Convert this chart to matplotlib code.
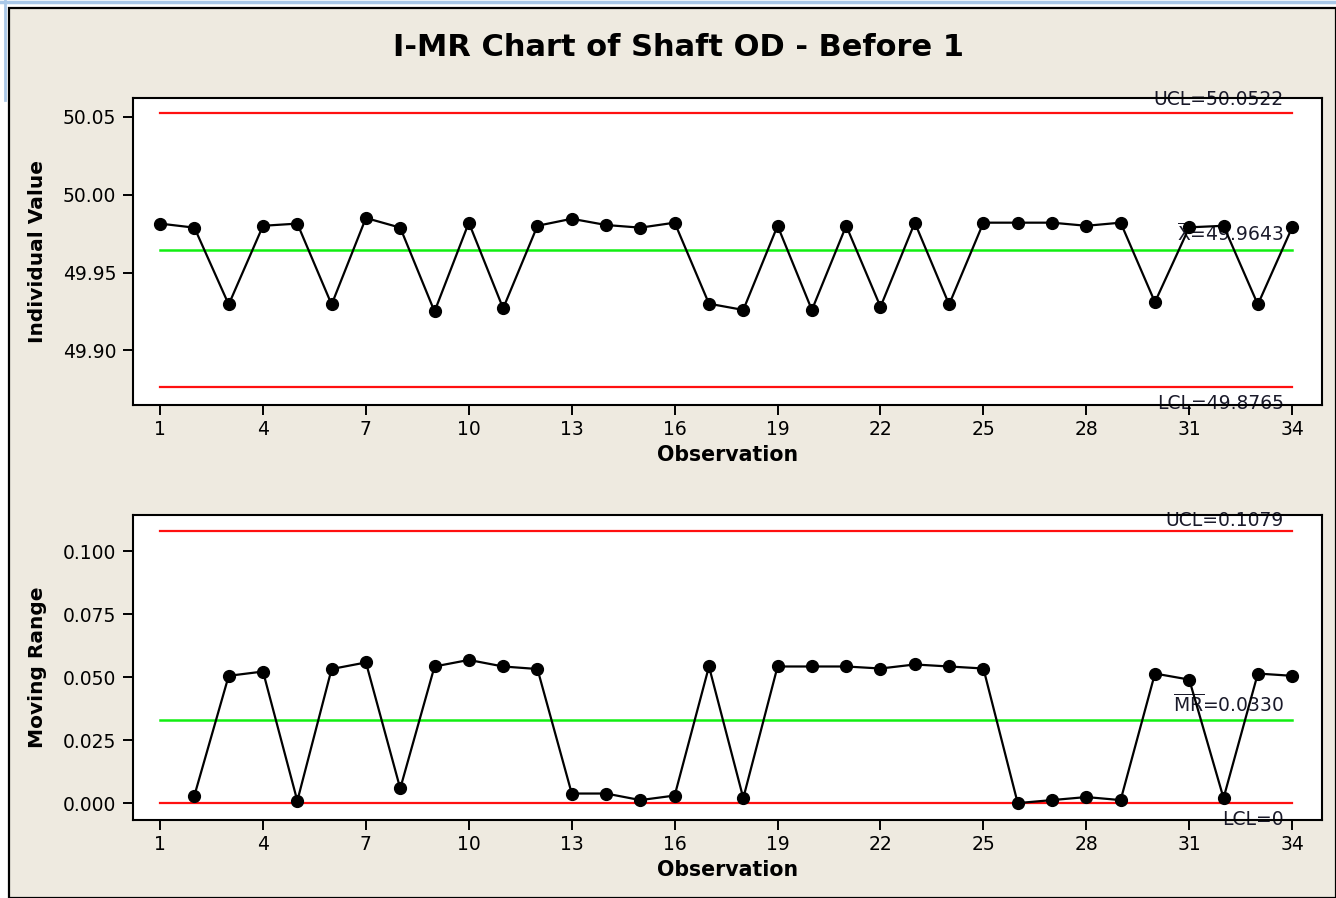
import numpy as np
import matplotlib
matplotlib.use("Agg")
import matplotlib.pyplot as plt
from matplotlib.patches import Rectangle
from matplotlib.lines import Line2D

# data
obs = list(range(1, 35))
ind_values = [49.9814, 49.9788, 49.9295, 49.9800, 49.9814, 49.9295, 49.9850, 49.9788,
              49.9250, 49.9820, 49.9270, 49.9800, 49.9845, 49.9805, 49.9788, 49.9820,
              49.9300, 49.9260, 49.9800, 49.9260, 49.9800, 49.9280, 49.9820, 49.9295,
              49.9820, 49.9820, 49.9820, 49.9800, 49.9820, 49.9310, 49.9790, 49.9800,
              49.9295, 49.9790]
mr_obs = list(range(2, 35))
mr_values = [0.0030, 0.0505, 0.0522, 0.0009, 0.0532, 0.0558, 0.0058, 0.0542, 0.0568,
             0.0542, 0.0532, 0.0038, 0.0038, 0.0012, 0.0030, 0.0542, 0.0020, 0.0542,
             0.0542, 0.0542, 0.0534, 0.0550, 0.0542, 0.0534, 0.0000, 0.0012, 0.0024,
             0.0012, 0.0514, 0.0490, 0.0020, 0.0514, 0.0505]
i_limits = {"UCL": 50.0522, "CL": 49.9643, "LCL": 49.8765}
mr_limits = {"UCL": 0.1079, "CL": 0.0330, "LCL": 0.0}
xticks = list(range(1, 35, 3))
i_yticks = [49.90, 49.95, 50.00, 50.05]
mr_yticks = [0.0, 0.025, 0.05, 0.075, 0.1]

W, H = 1336, 898
bg = "#EEEAE0"
plt.rcParams["mathtext.fontset"] = "dejavusans"
fig = plt.figure(figsize=(W / 100, H / 100), dpi=100, facecolor="white")

# window-like frame
fig.patches.append(Rectangle((9 / W, 0), 1 - 9 / W, 1 - 8 / H, transform=fig.transFigure,
                             facecolor=bg, edgecolor="black", linewidth=1.6, zorder=-10))
fig.lines.append(Line2D([0, 1], [1 - 1.5 / H, 1 - 1.5 / H], transform=fig.transFigure,
                        color="#A9C8E8", linewidth=2.5, zorder=-5))
fig.lines.append(Line2D([5 / W, 5 / W], [1, 1 - 100 / H], transform=fig.transFigure,
                        color="#A9C8E8", linewidth=2, zorder=-5))

fig.text(0.5075, 1 - 48 / H, "I-MR Chart of Shaft OD - Before 1", ha="center", va="center",
         fontsize=22, fontweight="bold", family="DejaVu Sans")

ax1 = fig.add_axes([133 / W, 1 - 405 / H, (1322 - 133) / W, (405 - 98) / H])
ax2 = fig.add_axes([133 / W, 1 - 820 / H, (1322 - 133) / W, (820 - 515) / H])


def style(ax, yticks, fmt, ylabel):
    ax.set_facecolor("white")
    for s in ax.spines.values():
        s.set_linewidth(1.5)
    ax.set_xlim(0.21, 34.87)
    ax.set_xticks(xticks)
    ax.set_yticks(yticks)
    ax.set_yticklabels([fmt.format(v) for v in yticks])
    ax.tick_params(direction="out", length=7, width=1.4, labelsize=13.5, pad=4)
    ax.tick_params(axis="y", pad=5)
    ax.set_xlabel("Observation", fontsize=14.8, fontweight="bold", labelpad=4)
    ax.set_ylabel(ylabel, fontsize=14.5, fontweight="bold")
    ax.yaxis.set_label_coords(-0.072, 0.5)


def limits(ax, lim, labels, offs):
    ax.plot([1, 34], [lim["UCL"]] * 2, color="#FF1010", lw=1.6, zorder=2)
    ax.plot([1, 34], [lim["LCL"]] * 2, color="#FF1010", lw=1.6, zorder=2)
    ax.plot([1, 34], [lim["CL"]] * 2, color="#11EE11", lw=1.8, zorder=2)
    for key, lab, off in zip(["UCL", "CL", "LCL"], labels, offs):
        ax.annotate(lab, (34, lim[key]), xytext=(-6, off), textcoords="offset points",
                    ha="right", va="center", fontsize=13.5, color="#1a1a2a",
                    annotation_clip=False, zorder=1)


# Individuals chart
ax1.plot(obs, ind_values, color="black", lw=1.6, marker="o", markersize=8.5, zorder=3)
ax1.set_ylim(49.865, 50.062)
style(ax1, i_yticks, "{:.2f}", "Individual Value")
limits(ax1, i_limits, ["UCL=50.0522", r"$\overline{\mathrm{X}}$=49.9643", "LCL=49.8765"],
       [10, 12, -11.5])

# Moving range chart
ax2.plot(mr_obs, mr_values, color="black", lw=1.6, marker="o", markersize=8.5, zorder=3)
ax2.set_ylim(-0.0067, 0.1143)
style(ax2, mr_yticks, "{:.3f}", "Moving Range")
limits(ax2, mr_limits, ["UCL=0.1079", r"$\overline{\mathrm{MR}}$=0.0330", "LCL=0"],
       [8, 11, -12])

fig.savefig("out.png", dpi=100, facecolor=fig.get_facecolor())
